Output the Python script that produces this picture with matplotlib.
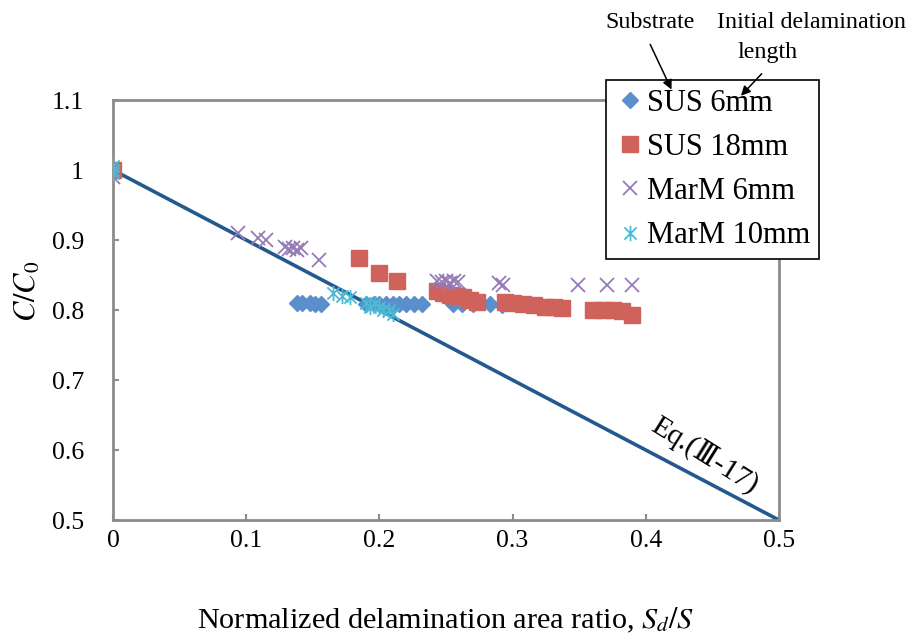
import matplotlib
matplotlib.use("Agg")
import matplotlib.pyplot as plt
from matplotlib.path import Path
from matplotlib.patches import FancyArrowPatch
from matplotlib.ticker import FuncFormatter

plt.rcParams['font.family'] = ['Liberation Serif', 'DejaVu Serif']
plt.rcParams['mathtext.fontset'] = 'stix'

# Measured stiffness ratio C/C0 against normalized delamination area ratio Sd/S
sus6_x = [0.0, 0.138, 0.142, 0.148, 0.152, 0.156, 0.190, 0.196, 0.200, 0.205, 0.210,
          0.215, 0.220, 0.226, 0.232, 0.255, 0.262, 0.270, 0.283, 0.292]
sus6_y = [1.0, 0.810, 0.810, 0.810, 0.809, 0.809, 0.809, 0.809, 0.809, 0.809, 0.809,
          0.809, 0.809, 0.809, 0.809, 0.808, 0.808, 0.808, 0.808, 0.807]

sus18_x = [0.0, 0.185, 0.200, 0.213, 0.243, 0.248, 0.253, 0.258, 0.263, 0.268, 0.273,
           0.294, 0.300, 0.308, 0.316, 0.324, 0.331, 0.337, 0.360, 0.368, 0.375,
           0.382, 0.390]
sus18_y = [1.0, 0.874, 0.853, 0.842, 0.827, 0.825, 0.822, 0.820, 0.818, 0.815, 0.812,
           0.812, 0.810, 0.808, 0.807, 0.805, 0.804, 0.803, 0.800, 0.800, 0.800,
           0.799, 0.793]

marm6_x = [0.0, 0.094, 0.109, 0.115, 0.129, 0.132, 0.135, 0.138, 0.141, 0.155,
           0.243, 0.247, 0.250, 0.253, 0.256, 0.259, 0.290, 0.293, 0.349, 0.371, 0.390]
marm6_y = [0.990, 0.910, 0.903, 0.900, 0.890, 0.887, 0.889, 0.886, 0.889, 0.872,
           0.842, 0.840, 0.842, 0.839, 0.842, 0.840, 0.838, 0.836, 0.836, 0.836, 0.836]

marm10_x = [0.0, 0.0, 0.0, 0.165, 0.172, 0.178, 0.190, 0.193, 0.197, 0.200, 0.203,
            0.207, 0.210]
marm10_y = [1.0, 1.006, 0.996, 0.825, 0.820, 0.819, 0.810, 0.805, 0.810, 0.805, 0.800,
            0.800, 0.795]

eq_x = [0.0, 0.5]
eq_y = [1.0, 0.5]

series_labels = ['SUS 6mm', 'SUS 18mm', 'MarM 6mm', 'MarM 10mm']
x_ticks = [0, 0.1, 0.2, 0.3, 0.4, 0.5]
y_ticks = [0.5, 0.6, 0.7, 0.8, 0.9, 1.0, 1.1]

# asterisk marker: an x with a vertical stroke through it
star = Path([(-1, -1), (1, 1), (-1, 1), (1, -1), (0, -1.25), (0, 1.25)],
            [Path.MOVETO, Path.LINETO, Path.MOVETO, Path.LINETO, Path.MOVETO, Path.LINETO])

fig = plt.figure(figsize=(9.09, 6.35), dpi=100)
ax = fig.add_axes([0.1243, 0.181, 0.7327, 0.6615])

ax.plot(eq_x, eq_y, color='#24598F', lw=2.6, zorder=2)

ax.plot(sus6_x, sus6_y, ls='none', marker='D', ms=8.5, color='#5B8FCB',
        mec='#5B8FCB', label=series_labels[0], zorder=3)
ax.plot(sus18_x, sus18_y, ls='none', marker='s', ms=11.5, color='#CF625A',
        mec='#CF625A', label=series_labels[1], zorder=3)
ax.plot(marm6_x, marm6_y, ls='none', marker='x', ms=10.5, mew=1.3, color='#957BB6',
        label=series_labels[2], zorder=4)
ax.plot(marm10_x, marm10_y, ls='none', marker=star, ms=11, mew=1.3, mfc='none',
        color='#4DBAD5', mec='#4DBAD5', label=series_labels[3], zorder=5)

ax.set_xlim(0, 0.5)
ax.set_ylim(0.5, 1.1)
ax.set_xticks(x_ticks)
ax.set_yticks(y_ticks)
fmt = FuncFormatter(lambda v, p: f'{v:g}')
ax.xaxis.set_major_formatter(fmt)
ax.yaxis.set_major_formatter(fmt)

for s in ax.spines.values():
    s.set_color('#8C8C8C')
    s.set_linewidth(2.0)
ax.tick_params(axis='both', direction='in', length=4.5, width=1.5, color='#8C8C8C',
               labelsize=18.5)
ax.tick_params(axis='x', pad=7)
ax.tick_params(axis='y', pad=21)

xl = ax.set_xlabel(r'Normalized delamination area ratio, $S_d/S$', fontsize=21.8)
xl.set_va('center')
ax.xaxis.set_label_coords(0.5, -0.238)
yl = ax.set_ylabel(r'$C/C_0$', fontsize=22)
yl.set_va('center')
ax.yaxis.set_label_coords(-0.128, 0.545)

ax.text(0.4444, 0.593, 'Eq.(Ⅲ-17)', rotation=-32, fontsize=21,
        ha='center', va='center', rotation_mode='anchor')

leg = fig.legend(loc='upper left', bbox_to_anchor=(0.667, 0.874), fontsize=22,
                 frameon=True, fancybox=False, edgecolor='black', framealpha=1,
                 handlelength=1.0, handletextpad=0.05, borderpad=0.28,
                 labelspacing=0.5, borderaxespad=0)
leg.get_frame().set_linewidth(1.2)

fig.text(0.715, 0.965, 'Substrate', fontsize=17.3, ha='center', va='center')
fig.text(0.893, 0.965, 'Initial delamination', fontsize=17.3, ha='center', va='center')
fig.text(0.844, 0.918, 'length', fontsize=17.3, ha='center', va='center')
fig.add_artist(FancyArrowPatch(
    (0.714, 0.934), (0.740, 0.855), transform=fig.transFigure,
    arrowstyle='-|>', mutation_scale=14, color='black', lw=1.1, zorder=10))
fig.add_artist(FancyArrowPatch(
    (0.840, 0.887), (0.813, 0.846), transform=fig.transFigure,
    arrowstyle='-|>', mutation_scale=14, color='black', lw=1.1, zorder=10))

fig.savefig('out.png', dpi=100)
